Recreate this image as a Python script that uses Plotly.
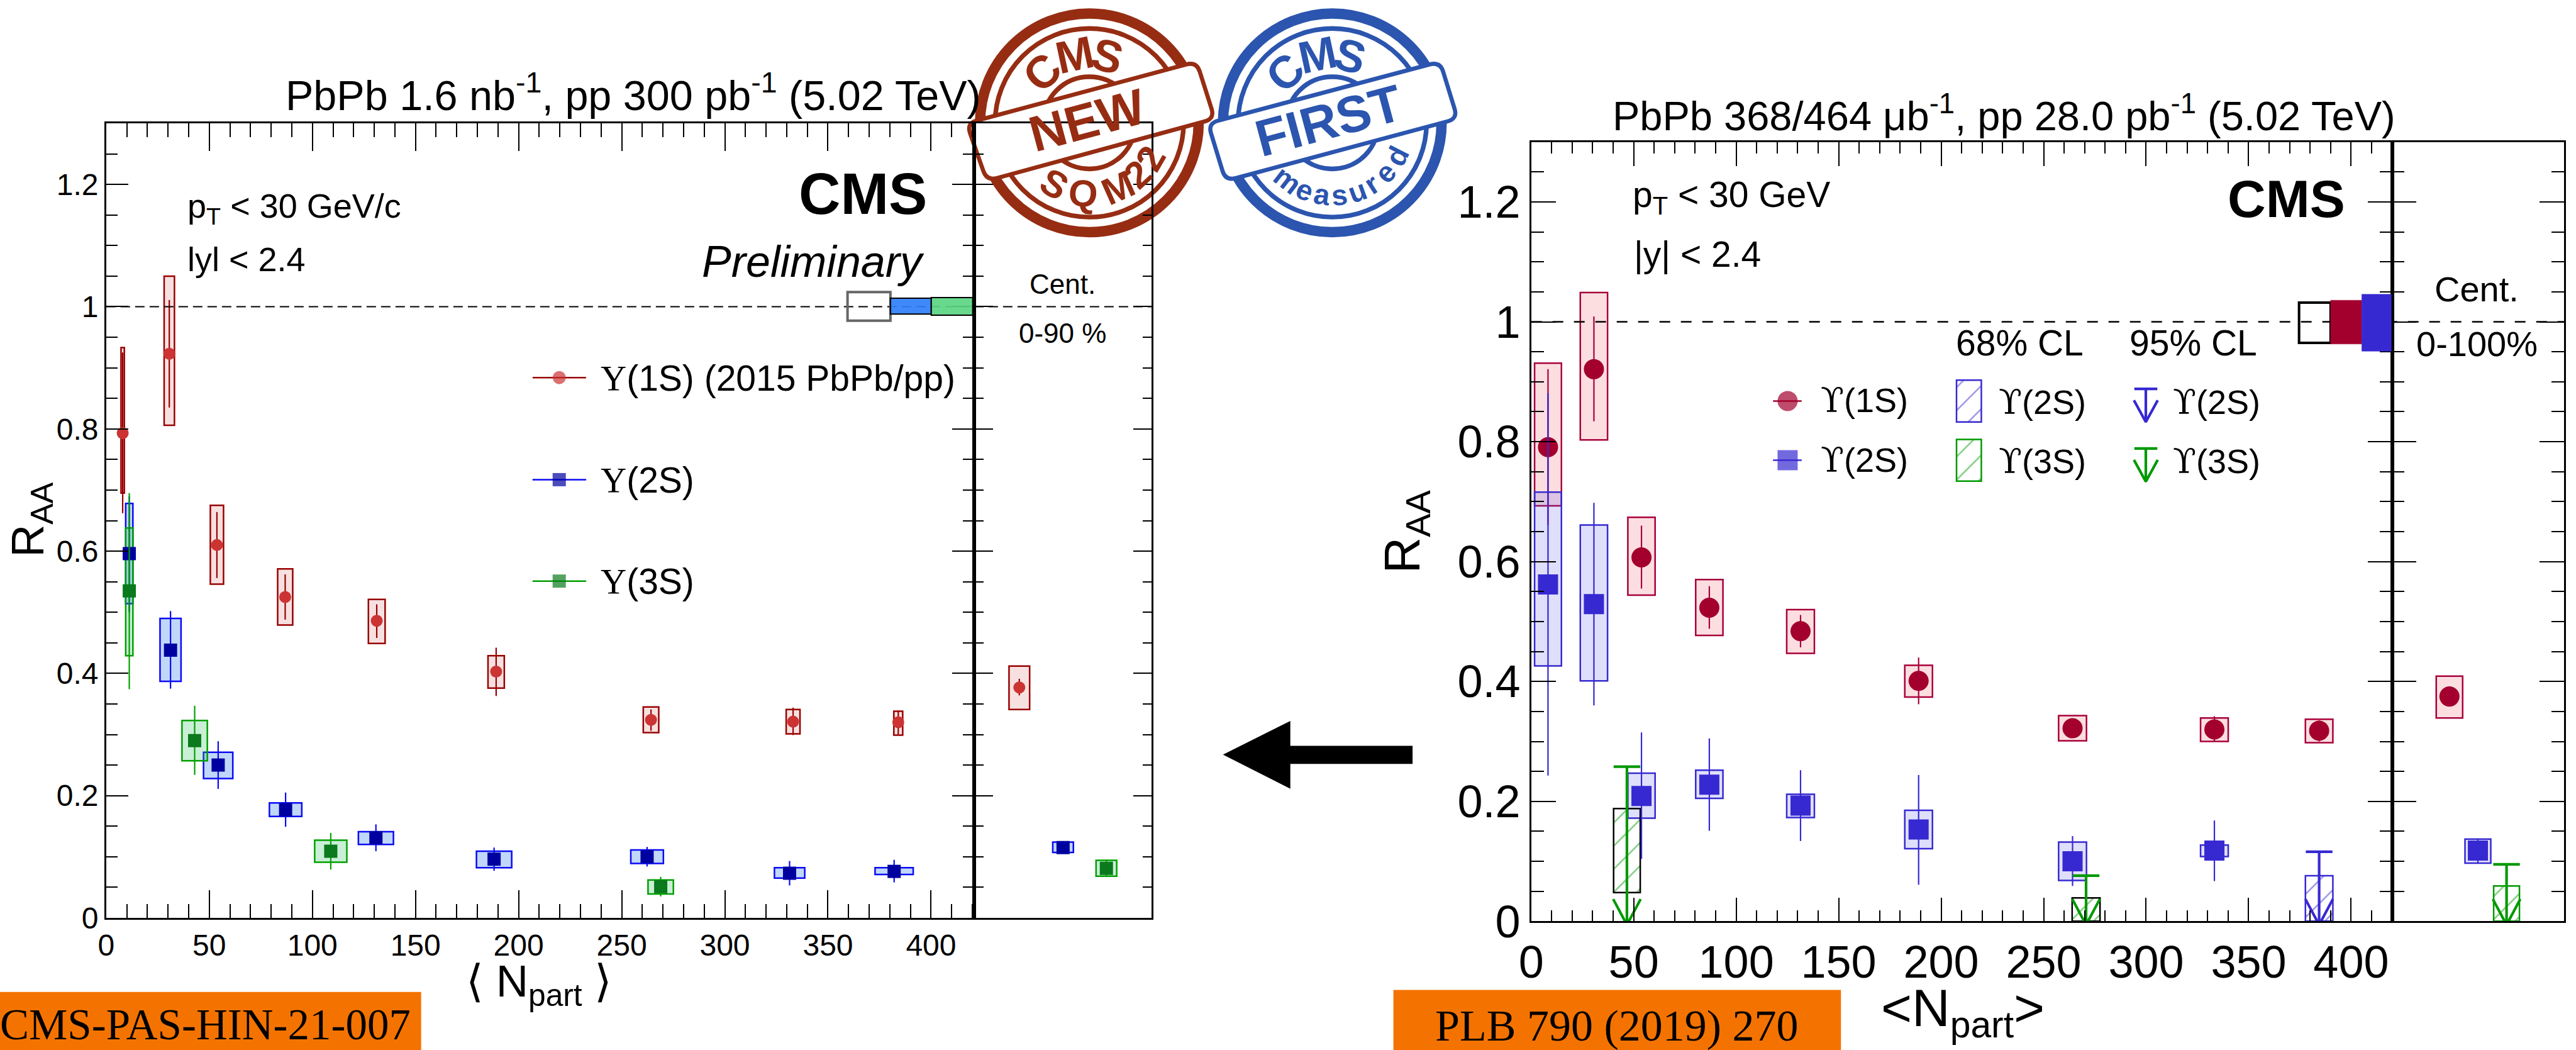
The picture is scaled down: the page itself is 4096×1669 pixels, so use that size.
import math
import plotly.graph_objects as go

# ---------- data: left panel (CMS-PAS-HIN-21-007) ----------
L1_x = [8.0, 30.6, 53.7, 86.8, 131.2, 189.1, 264.2, 333.1, 384.1]
L1_y = [0.793, 0.923, 0.610, 0.525, 0.486, 0.403, 0.324, 0.321, 0.320]
L1_stat_hi = [0.925, 1.011, 0.664, 0.562, 0.513, 0.442, 0.341, 0.344, 0.339]
L1_stat_lo = [0.662, 0.835, 0.556, 0.488, 0.458, 0.363, 0.306, 0.299, 0.300]
L1_box_hi = [0.933, 1.050, 0.675, 0.571, 0.521, 0.429, 0.345, 0.341, 0.338]
L1_box_lo = [0.695, 0.806, 0.546, 0.479, 0.449, 0.376, 0.303, 0.301, 0.299]
L1_box_w = [1.6, 5.0, 6.4, 7.3, 8.1, 7.9, 7.5, 6.7, 4.3]

L2_x = [11.2, 31.2, 54.3, 87.0, 130.8, 188.1, 262.3, 331.4, 382.1]
L2_y = [0.596, 0.438, 0.250, 0.177, 0.131, 0.096, 0.100, 0.073, 0.076]
L2_stat_hi = [0.690, 0.502, 0.289, 0.205, 0.153, 0.115, 0.116, 0.093, 0.095]
L2_stat_lo = [0.500, 0.375, 0.211, 0.149, 0.109, 0.077, 0.084, 0.053, 0.058]
L2_box_hi = [0.678, 0.490, 0.271, 0.188, 0.141, 0.109, 0.111, 0.082, 0.082]
L2_box_lo = [0.514, 0.387, 0.228, 0.166, 0.120, 0.082, 0.089, 0.065, 0.071]
L2_box_w = [3.5, 10.2, 14.2, 15.7, 17.0, 17.1, 15.8, 14.7, 18.5]

L3_x = [11.2, 42.9, 108.9, 268.9]
L3_y = [0.535, 0.290, 0.109, 0.051]
L3_stat_hi = [0.695, 0.347, 0.139, 0.067]
L3_stat_lo = [0.374, 0.234, 0.079, 0.035]
L3_box_hi = [0.638, 0.323, 0.127, 0.062]
L3_box_lo = [0.429, 0.257, 0.091, 0.039]
L3_box_w = [3.5, 12.3, 15.6, 12.3]

# left, centrality-integrated side panel: 1S, 2S, 3S
LC_x = [21.8, 43.0, 64.0]
LC_y = [0.377, 0.115, 0.081]
LC_stat_hi = [0.391, 0.124, 0.095]
LC_stat_lo = [0.364, 0.107, 0.067]
LC_box_hi = [0.412, 0.124, 0.094]
LC_box_lo = [0.341, 0.107, 0.068]
LC_box_w = [10.0, 10.0, 10.0]

# ---------- data: right panel (PLB 790 (2019) 270) ----------
R1_x = [8.2, 30.6, 53.8, 86.9, 131.4, 189.0, 264.1, 333.3, 384.4]
R1_y = [0.791, 0.921, 0.607, 0.523, 0.484, 0.401, 0.322, 0.320, 0.318]
R1_stat_hi = [0.921, 1.009, 0.660, 0.559, 0.511, 0.440, 0.337, 0.342, 0.335]
R1_stat_lo = [0.661, 0.834, 0.555, 0.488, 0.457, 0.362, 0.307, 0.300, 0.300]
R1_box_hi = [0.931, 1.049, 0.674, 0.570, 0.520, 0.427, 0.343, 0.339, 0.337]
R1_box_lo = [0.693, 0.803, 0.544, 0.477, 0.447, 0.374, 0.301, 0.300, 0.298]
R1_box_w = [13.1, 13.3, 13.3, 13.3, 13.5, 13.5, 13.6, 13.5, 13.4]

R2_x = [8.2, 30.6, 53.8, 86.9, 131.4, 189.0, 264.1, 333.3]
R2_y = [0.562, 0.529, 0.209, 0.228, 0.193, 0.153, 0.100, 0.118]
R2_stat_hi = [0.881, 0.698, 0.315, 0.305, 0.252, 0.244, 0.142, 0.168]
R2_stat_lo = [0.243, 0.360, 0.104, 0.151, 0.134, 0.061, 0.059, 0.067]
R2_box_hi = [0.716, 0.661, 0.247, 0.252, 0.212, 0.185, 0.132, 0.127]
R2_box_lo = [0.426, 0.401, 0.172, 0.205, 0.173, 0.121, 0.068, 0.108]
R2_box_w = [13.1, 13.3, 13.3, 13.3, 13.5, 13.5, 13.6, 13.5]

# 95% upper limits and 68% hatched intervals
R2lim_x = [384.4]
R2lim_up = [0.116]
R2lim_box_hi = [0.076]
R2lim_box_lo = [0.0]
R2lim_box_w = [13.4]

R3lim_x = [46.7, 270.7]
R3lim_up = [0.258, 0.076]
R3lim_box_hi = [0.188, 0.039]
R3lim_box_lo = [0.048, 0.0]
R3lim_box_w = [13.0, 13.6]

RC_x = [28.0, 41.9]
RC_y = [0.375, 0.118]
RC_stat_hi = [0.392, 0.138]
RC_stat_lo = [0.358, 0.098]
RC_box_hi = [0.409, 0.137]
RC_box_lo = [0.339, 0.097]
RC_box_w = [12.9, 12.6]
RC3_x = [55.9]
RC3_up = [0.095]
RC3_box_hi = [0.059]
RC3_box_lo = [0.0]
RC3_box_w = [12.6]

# global uncertainty boxes drawn at unity
L_lumi_x = [(359.5, 380.3), (380.3, 400.1), (400.1, 420.2)]
L_lumi_y = [(0.977, 1.024), (0.988, 1.014), (0.986, 1.015)]
R_lumi_x = [(374.6, 390.0), (390.0, 405.2), (405.2, 419.6)]
R_lumi_y = [(0.965, 1.032), (0.963, 1.036), (0.951, 1.046)]

XMAX_L, XMAX_R = 421, 420
SIDE_L, SIDE_R = 86, 84

# ---------- helpers ----------
W, H = 4973.0, 2026.0
S = 4096.0 / W
px = lambda v: v / W
py = lambda v: 1 - v / H
SANS, SERIF = "Liberation Sans", "Liberation Serif"
U_L = '<span style="font-family:Liberation Serif">Υ</span>'
U_R = '<span style="font-family:DejaVu Serif">ϒ</span>'

C_L = dict(r_line="#990000", r_fill="rgba(204,60,60,0.16)", r_mark="#CC3333",
           b_line="#0A0AF5", b_fill="rgba(60,130,240,0.32)", b_mark="#0000A0",
           g_line="#00A000", g_fill="rgba(40,190,90,0.25)", g_mark="#0A7A1C")
C_R = dict(r_line="#A8003A", r_fill="rgba(240,70,90,0.18)", r_mark="#A3002E",
           b_line="#3729D1", b_fill="rgba(80,80,235,0.18)", b_mark="#3729D1",
           g_line="#009900")

fig = go.Figure()
shapes, ann = [], []


def text(t, x, y, size, color="black", anchor="left", family=SANS, angle=0, valign="middle"):
    ann.append(dict(text=t, x=px(x), y=py(y), xref="paper", yref="paper", xanchor=anchor,
                    yanchor=valign, showarrow=False, textangle=angle,
                    font=dict(family=family, size=size, color=color)))


def boxes(xs, lo, hi, w, line, fill, ax, lw=2.5, hatch=None):
    m = dict(color=fill, line=dict(color=line, width=lw))
    if hatch:
        m = dict(color="rgba(255,255,255,0)", line=dict(color=line, width=lw),
                 pattern=dict(shape="/", fgcolor=hatch, bgcolor="rgba(255,255,255,0)", size=26, solidity=0.1))
    fig.add_trace(go.Bar(x=xs, base=lo, y=[h - l for h, l in zip(hi, lo)], width=w, marker=m,
                         xaxis="x" + ax, yaxis="y" + ax, showlegend=False, hoverinfo="skip"))


def points(xs, y, hi, lo, color, line, symbol, size, ax, ew=2.2):
    fig.add_trace(go.Scatter(x=xs, y=y, mode="markers",
                             marker=dict(color=color, size=size, symbol=symbol, line=dict(width=0)),
                             error_y=dict(type="data", symmetric=False,
                                          array=[h - v for h, v in zip(hi, y)],
                                          arrayminus=[v - l for v, l in zip(y, lo)],
                                          color=line, thickness=ew, width=0),
                             xaxis="x" + ax, yaxis="y" + ax, showlegend=False, hoverinfo="skip", cliponaxis=False))


def limit_path(xs, ups, color, ax):
    path_x, path_y = [], []
    for x, u in zip(xs, ups):
        path_x += [x - 6.5, x + 6.5, None, x, x, None, x - 6.7, x, x + 6.7, None]
        path_y += [u, u, None, u, -0.006, None, 0.037, -0.006, 0.037, None]
    fig.add_trace(go.Scatter(x=path_x, y=path_y, mode="lines", line=dict(color=color, width=4.2),
                             xaxis="x" + ax, yaxis="y" + ax, showlegend=False, hoverinfo="skip", cliponaxis=False))


# ---------- left panel marks ----------
boxes(L1_x, L1_box_lo, L1_box_hi, L1_box_w, C_L["r_line"], C_L["r_fill"], "")
boxes(L2_x, L2_box_lo, L2_box_hi, L2_box_w, C_L["b_line"], C_L["b_fill"], "")
boxes(L3_x, L3_box_lo, L3_box_hi, L3_box_w, C_L["g_line"], C_L["g_fill"], "")
points(L1_x, L1_y, L1_stat_hi, L1_stat_lo, C_L["r_mark"], C_L["r_line"], "circle", 19, "")
points(L2_x, L2_y, L2_stat_hi, L2_stat_lo, C_L["b_mark"], C_L["b_line"], "square", 21, "")
points(L3_x, L3_y, L3_stat_hi, L3_stat_lo, C_L["g_mark"], C_L["g_line"], "square", 21, "")

boxes(LC_x[:1], LC_box_lo[:1], LC_box_hi[:1], LC_box_w[:1], C_L["r_line"], C_L["r_fill"], "2")
boxes(LC_x[1:2], LC_box_lo[1:2], LC_box_hi[1:2], LC_box_w[1:2], C_L["b_line"], C_L["b_fill"], "2")
boxes(LC_x[2:], LC_box_lo[2:], LC_box_hi[2:], LC_box_w[2:], C_L["g_line"], C_L["g_fill"], "2")
points(LC_x[:1], LC_y[:1], LC_stat_hi[:1], LC_stat_lo[:1], C_L["r_mark"], C_L["r_line"], "circle", 19, "2")
points(LC_x[1:2], LC_y[1:2], LC_stat_hi[1:2], LC_stat_lo[1:2], C_L["b_mark"], C_L["b_line"], "square", 21, "2")
points(LC_x[2:], LC_y[2:], LC_stat_hi[2:], LC_stat_lo[2:], C_L["g_mark"], C_L["g_line"], "square", 21, "2")

# left legend keys
for yk, col, lc, sym in [(0.884, C_L["r_mark"], C_L["r_line"], "circle"),
                         (0.717, C_L["b_mark"], C_L["b_line"], "square"),
                         (0.551, C_L["g_mark"], C_L["g_line"], "square")]:
    fig.add_trace(go.Scatter(x=[206.8, 219.7, 232.7], y=[yk] * 3, mode="lines+markers",
                             line=dict(color=lc, width=2.5),
                             marker=dict(color=col, size=[1, 21, 1], symbol=sym, line=dict(width=0)),
                             showlegend=False, hoverinfo="skip"))

# ---------- right panel marks ----------
boxes(R1_x, R1_box_lo, R1_box_hi, R1_box_w, C_R["r_line"], C_R["r_fill"], "3")
boxes(R2_x, R2_box_lo, R2_box_hi, R2_box_w, C_R["b_line"], C_R["b_fill"], "3")
boxes(R2lim_x, R2lim_box_lo, R2lim_box_hi, R2lim_box_w, C_R["b_line"], None, "3", hatch=C_R["b_line"])
boxes(R3lim_x, R3lim_box_lo, R3lim_box_hi, R3lim_box_w, "black", None, "3", hatch=C_R["g_line"])
points(R1_x, R1_y, R1_stat_hi, R1_stat_lo, C_R["r_mark"], C_R["r_line"], "circle", 32, "3")
points(R2_x, R2_y, R2_stat_hi, R2_stat_lo, C_R["b_mark"], C_R["b_line"], "square", 32, "3")
limit_path(R2lim_x, R2lim_up, C_R["b_line"], "3")
limit_path(R3lim_x, R3lim_up, C_R["g_line"], "3")

boxes(RC_x[:1], RC_box_lo[:1], RC_box_hi[:1], RC_box_w[:1], C_R["r_line"], C_R["r_fill"], "4")
boxes(RC_x[1:], RC_box_lo[1:], RC_box_hi[1:], RC_box_w[1:], C_R["b_line"], C_R["b_fill"], "4")
boxes(RC3_x, RC3_box_lo, RC3_box_hi, RC3_box_w, C_R["g_line"], None, "4", hatch=C_R["g_line"])
points(RC_x[:1], RC_y[:1], RC_stat_hi[:1], RC_stat_lo[:1], C_R["r_mark"], C_R["r_line"], "circle", 32, "4")
points(RC_x[1:], RC_y[1:], RC_stat_hi[1:], RC_stat_lo[1:], C_R["b_mark"], C_R["b_line"], "square", 32, "4")
limit_path(RC3_x, RC3_up, C_R["g_line"], "4")

# right legend keys (drawn in the right panel's data frame)
def rx(v): return (v - 2956) / 3.957
def ry(v): return (1777.6 - v) / 1157.0

for yr, col, sym in [(773.4, C_R["r_mark"], "circle"), (887.7, C_R["b_mark"], "square")]:
    fig.add_trace(go.Scatter(x=[rx(3423), rx(3451), rx(3478)], y=[ry(yr)] * 3, mode="lines+markers",
                             line=dict(color=col, width=2.5),
                             marker=dict(color=col, size=[1, 32, 1], symbol=sym, line=dict(width=0)),
                             xaxis="x3", yaxis="y3", showlegend=False, hoverinfo="skip"))
boxes([rx(3801)], [ry(814)], [ry(733)], [12.1], C_R["b_line"], None, "3", hatch=C_R["b_line"])
boxes([rx(3801)], [ry(928)], [ry(847.5)], [12.1], C_R["g_line"], None, "3", hatch=C_R["g_line"])
for ytop, c in [(750, C_R["b_line"]), (865, C_R["g_line"])]:
    xc = rx(4142.5)
    fig.add_trace(go.Scatter(
        x=[xc - 5.6, xc + 5.6, None, xc, xc, None, xc - 5.8, xc, xc + 5.8],
        y=[ry(ytop), ry(ytop), None, ry(ytop), ry(ytop + 64), None, ry(ytop + 22), ry(ytop + 64), ry(ytop + 22)],
        mode="lines", line=dict(color=c, width=4.2), xaxis="x3", yaxis="y3", showlegend=False, hoverinfo="skip"))

# ---------- stamps (beneath the axes) ----------
RED, BLUE = "#962D13", "#2B55AE"


def ring(cx, cy, r, lw, color):
    shapes.append(dict(type="circle", xref="paper", yref="paper", layer="below",
                       x0=px(cx - r), x1=px(cx + r), y0=py(cy + r), y1=py(cy - r),
                       line=dict(color=color, width=lw * S), fillcolor="rgba(0,0,0,0)"))


def band(corners, color, rad=20):
    d = ""
    n = len(corners)
    for i in range(n):
        p0, p1, p2 = corners[i - 1], corners[i], corners[(i + 1) % n]
        l0 = math.dist(p0, p1)
        l2 = math.dist(p1, p2)
        a = (p1[0] + (p0[0] - p1[0]) * rad / l0, p1[1] + (p0[1] - p1[1]) * rad / l0)
        b = (p1[0] + (p2[0] - p1[0]) * rad / l2, p1[1] + (p2[1] - p1[1]) * rad / l2)
        d += ("M" if i == 0 else "L") + f"{px(a[0]):.5f},{py(a[1]):.5f}"
        d += f"Q{px(p1[0]):.5f},{py(p1[1]):.5f} {px(b[0]):.5f},{py(b[1]):.5f}"
    d += "Z"
    shapes.append(dict(type="path", path=d, xref="paper", yref="paper", layer="below",
                       fillcolor="white", line=dict(color=color, width=8 * S)))


def stamp(cx, cy, color, corners):
    ring(cx, cy, 211, 20, color)
    ring(cx, cy, 182, 9, color)
    ring(cx, cy, 89, 9, color)
    band(corners, color)


def arc_letters(cx, cy, letters, r, size, color):
    for ch, ang in letters:
        a = math.radians(ang)
        text(ch, cx + r * math.sin(a), cy - r * math.cos(a), size, color, "center", angle=ang)


def arc_letters_low(cx, cy, letters, r, size, color):
    for ch, ang in letters:
        a = math.radians(ang)
        text(ch, cx + r * math.sin(a), cy + r * math.cos(a), size, color, "center", angle=-ang)


stamp(2103, 237, RED, [(1866, 238), (2310, 119), (2345, 229), (1905, 349)])
stamp(2572, 237, BLUE, [(2332, 238), (2780, 119), (2814, 229), (2366, 349)])
text("<b>NEW</b>", 2098, 232, 80, RED, "center", angle=-15)
text("<b>FIRST</b>", 2565, 232, 82, BLUE, "center", angle=-15)
arc_letters(2103, 237, [("<b>C</b>", -43), ("<b>M</b>", -12), ("<b>S</b>", 15)], 134, 72, RED)
arc_letters(2572, 237, [("<b>C</b>", -43), ("<b>M</b>", -12), ("<b>S</b>", 15)], 134, 72, BLUE)
arc_letters_low(2103, 237, [("<b>S</b>", -30), ("<b>Q</b>", -5), ("<b>M</b>", 24), ("<b>2</b>", 43), ("<b>2</b>", 60)],
                137, 60, RED)
arc_letters_low(2572, 237, [("<b>%s</b>" % c, a) for c, a in zip("measured", [-38, -22, -8, 6, 20, 33, 47, 63])],
                140, 46, BLUE)

# ---------- big arrow, orange tags ----------
arrow = [(2361, 1456), (2491, 1391), (2491, 1439), (2727, 1439), (2727, 1474), (2491, 1474), (2491, 1522)]
shapes.append(dict(type="path", xref="paper", yref="paper", fillcolor="black", line=dict(width=0),
                   path="M" + "L".join(f"{px(a):.5f},{py(b):.5f}" for a, b in arrow) + "Z"))
for x0, x1, y0 in [(0, 813, 1914), (2690, 3554, 1910)]:
    shapes.append(dict(type="rect", xref="paper", yref="paper", x0=px(x0), x1=px(x1), y0=py(2026), y1=py(y0),
                       fillcolor="#F47300", line=dict(width=0)))
text("CMS-PAS-HIN-21-007", 397, 1978, 69, family=SERIF, anchor="center")
text("PLB 790 (2019) 270", 3122, 1979, 70, family=SERIF, anchor="center")

# ---------- reference lines and global boxes ----------
shapes.append(dict(type="line", xref="paper", yref="y", x0=px(205), x1=px(2223), y0=1, y1=1,
                   line=dict(color="black", width=2.2, dash="15px,8px")))
shapes.append(dict(type="line", xref="paper", yref="y3", x0=px(2956), x1=px(4950), y0=1, y1=1,
                   line=dict(color="black", width=2.5, dash="17px,17px")))
for (x0, x1), (y0, y1), fc, lc, lw in zip(L_lumi_x, L_lumi_y,
                                          ["rgba(0,0,0,0)", "rgba(47,127,251,0.92)", "rgba(91,214,130,0.92)"],
                                          ["#666666", "black", "black"], [4, 2, 2]):
    shapes.append(dict(type="rect", xref="x", yref="y", x0=x0, x1=x1, y0=y0, y1=y1,
                       fillcolor=fc, line=dict(color=lc, width=lw)))
for (x0, x1), (y0, y1), fc, lc, lw in zip(R_lumi_x, R_lumi_y,
                                          ["rgba(0,0,0,0)", "#A3002E", "#3729D1"],
                                          ["black", "#A3002E", "#3729D1"], [4, 0.5, 0.5]):
    shapes.append(dict(type="rect", xref="x3", yref="y3", x0=x0, x1=x1, y0=y0, y1=y1,
                       fillcolor=fc, line=dict(color=lc, width=lw)))

# ---------- texts ----------
text("PbPb 1.6 nb<sup>-1</sup>, pp 300 pb<sup>-1</sup> (5.02 TeV)", 549, 178, 66.5)
text("PbPb 368/464 μb<sup>-1</sup>, pp 28.0 pb<sup>-1</sup> (5.02 TeV)", 3110, 218, 65)
text("p<sub>T</sub> &lt; 30 GeV/c", 359, 402, 54)
text("lyl &lt; 2.4", 359, 500, 54)
text("<b>CMS</b>", 1792, 374, 92, anchor="right")
text("<i>Preliminary</i>", 1787, 505, 70, anchor="right")
text("Cent.", 2051, 548, 44, anchor="center")
text("0-90 %", 2051, 643, 44, anchor="center")
text(U_L + "(1S) (2015 PbPb/pp)", 1157, 729, 57)
text(U_L + "(2S)", 1157, 926, 57)
text(U_L + "(3S)", 1157, 1122, 57)
text("R<sub>AA</sub>", 60, 1002, 72, anchor="center", angle=-90)
text("⟨ N<sub>part</sub> ⟩", 1041, 1900, 71, anchor="center")

text("p<sub>T</sub> &lt; 30 GeV", 3150, 380, 57)
text("|y| &lt; 2.4", 3152, 490, 57)
text("<b>CMS</b>", 4530, 383, 84, anchor="right")
text("Cent.", 4781, 558, 56, anchor="center")
text("0-100%", 4782, 664, 56, anchor="center")
text("68% CL", 3773, 661, 57)
text("95% CL", 4108, 661, 57)
text(U_R + "(1S)", 3512, 773, 54)
text(U_R + "(2S)", 3512, 888, 54)
text(U_R + "(2S)", 3856, 776, 54)
text(U_R + "(3S)", 3856, 890, 54)
text(U_R + "(2S)", 4192, 776, 54)
text(U_R + "(3S)", 4192, 890, 54)
text("R<sub>AA</sub>", 2714, 1026, 80, anchor="center", angle=-90)
text("&lt;N<sub>part</sub>&gt;", 3789, 1952, 84, anchor="center")


# ---------- axes ----------
def xmain(dom, rng, size, major, minor, anchor):
    return dict(domain=[px(dom[0]), px(dom[1])], range=[0, rng], anchor=anchor, dtick=50, tick0=0,
                ticks="inside", ticklen=major, tickwidth=2, tickcolor="black", showgrid=False, zeroline=False,
                showline=True, linecolor="black", linewidth=2.6, mirror="ticks",
                tickfont=dict(family=SANS, size=size, color="black"),
                minor=dict(dtick=10, tick0=0, ticks="inside", ticklen=minor, tickwidth=2, tickcolor="black", showgrid=False))


def ymain(dom, size, major, minor, anchor):
    return dict(domain=[py(dom[1]), py(dom[0])], range=[0, 1.3], anchor=anchor, dtick=0.2, tick0=0,
                ticks="inside", ticklen=major, tickwidth=2.2, tickcolor="black", showgrid=False, zeroline=False,
                showline=True, linecolor="black", linewidth=2.6, mirror="ticks",
                tickfont=dict(family=SANS, size=size, color="black"),
                minor=dict(dtick=0.05, tick0=0, ticks="inside", ticklen=minor, tickwidth=2.2, tickcolor="black", showgrid=False))


def xside(dom, rng, anchor):
    return dict(domain=[px(dom[0]), px(dom[1])], range=[0, rng], anchor=anchor, ticks="", showticklabels=False,
                showgrid=False, zeroline=False, showline=True, linecolor="black", linewidth=2.6, mirror=True)


def yside(dom, major, minor, anchor):
    return dict(domain=[py(dom[1]), py(dom[0])], range=[0, 1.3], anchor=anchor, dtick=0.2, tick0=0,
                ticks="inside", ticklen=major, tickwidth=2.2, tickcolor="black", showticklabels=False,
                showgrid=False, zeroline=False, showline=True, linecolor="black", linewidth=2.6, mirror="ticks",
                minor=dict(dtick=0.05, tick0=0, ticks="inside", ticklen=minor, tickwidth=2.2, tickcolor="black", showgrid=False))


fig.update_layout(
    width=4096, height=1669, margin=dict(l=0, r=0, t=0, b=0, autoexpand=False), autosize=False,
    paper_bgcolor="white", plot_bgcolor="rgba(0,0,0,0)", showlegend=False, barmode="overlay",
    font=dict(family=SANS, color="black"),
    xaxis=xmain((205, 1881), XMAX_L, 48, 44, 22, "y"),
    yaxis=ymain((238, 1771), 48, 35, 18, "x"),
    xaxis2=xside((1881, 2223.5), SIDE_L, "y2"),
    yaxis2=yside((238, 1771), 30, 15, "x2"),
    xaxis3=xmain((2956, 4618), XMAX_R, 72, 38, 18, "y3"),
    yaxis3=ymain((274, 1777.6), 72, 39, 20, "x3"),
    xaxis4=xside((4618, 4950), SIDE_R, "y4"),
    yaxis4=yside((274, 1777.6), 39, 20, "x4"),
    shapes=shapes, annotations=ann,
)

fig.write_html("out.html", config=dict(displayModeBar=False),
               post_script="document.body.style.margin='0';document.body.style.overflow='hidden';")
